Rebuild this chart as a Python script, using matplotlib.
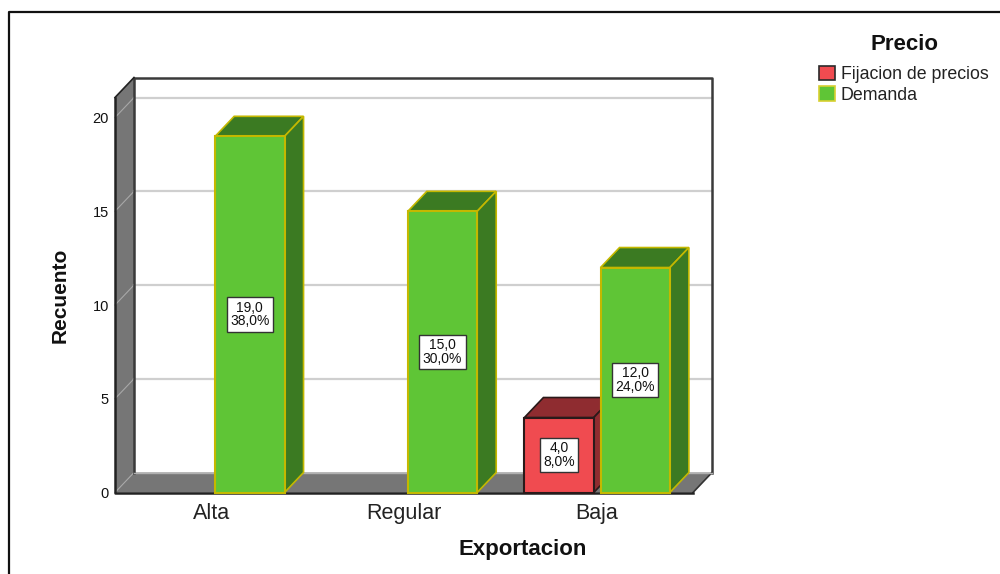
import matplotlib
matplotlib.use('Agg')
from matplotlib import pyplot as plt
from matplotlib.patches import Polygon, Patch
from matplotlib.lines import Line2D

plt.rcParams['font.family'] = ['Liberation Sans', 'DejaVu Sans']

categorias = ['Alta', 'Regular', 'Baja']
y_ticks = [0, 5, 10, 15, 20]
fijacion = [0, 0, 4]
demanda = [19, 15, 12]
pct_fijacion = [0, 0, 8]
pct_demanda = [38, 30, 24]

W, H = 1000, 574
# depth of the fake 3d box, in category / count units
dx = 19 / 192.67
dy = 20 / 18.75
x0, x1 = -0.5, 2.5
y0, y1 = 0, 21.07
ancho = 0.36
GRIS = '#767676'
VERDE, VERDE_D, VERDE_E = '#5FC536', '#3B7A22', '#C4B800'
ROJO, ROJO_D, ROJO_E = '#F04B50', '#8F2C30', '#2A1A1A'

fig = plt.figure(figsize=(W / 100, H / 100), dpi=100)
ax = fig.add_axes([115 / W, 1 - 492.5 / H, 578 / W, 395 / H])
ax.set_xlim(x0, x1)
ax.set_ylim(y0, y1)
ax.patch.set_visible(False)
for s in ax.spines.values():
    s.set_visible(False)


def poli(pts, color, edge, lw=1.0, z=2):
    ax.add_patch(Polygon(pts, closed=True, facecolor=color, edgecolor=edge,
                         linewidth=lw, clip_on=False, zorder=z, joinstyle='miter'))


# left wall and floor
poli([(x0, y0), (x0 + dx, dy), (x0 + dx, y1 + dy), (x0, y1)], GRIS, 'none', 0, 1)
poli([(x0, y0), (x0 + dx, dy), (x1 + dx, dy), (x1, y0)], GRIS, 'none', 0, 1)

# gridlines on back wall, continuing down the left wall
for t in y_ticks[1:]:
    ax.plot([x0 + dx, x1 + dx], [t + dy, t + dy], color='#cfcfcf', lw=1.6, clip_on=False, zorder=1.5)
    ax.plot([x0, x0 + dx], [t, t + dy], color='#a8a8a8', lw=0.8, clip_on=False, zorder=1.5)
ax.plot([x0, x0 + dx], [y0, dy], color='#a8a8a8', lw=0.8, clip_on=False, zorder=1.5)
ax.plot([x1, x1 + dx], [y0, dy], color='#333333', lw=1.2, clip_on=False, zorder=1.5)

# box outline
ax.plot([x0 + dx, x0 + dx, x1 + dx, x1 + dx], [dy, y1 + dy, y1 + dy, dy], color='#3a3a3a', lw=1.8, clip_on=False, zorder=1.6)
ax.plot([x0 + dx, x1 + dx], [dy, dy], color='#b0b0b0', lw=1, clip_on=False, zorder=1.6)
ax.plot([x0, x0, x1], [y1, y0, y0], color='#222222', lw=1.8, clip_on=False, zorder=1.6)
ax.plot([x0, x0 + dx], [y1, y1 + dy], color='#222222', lw=1.2, clip_on=False, zorder=1.6)


def barra(xc, v, cara, lado, borde, z):
    a, b = xc - ancho / 2, xc + ancho / 2
    poli([(a, v), (a + dx, v + dy), (b + dx, v + dy), (b, v)], lado, borde, 1.2, z)
    poli([(b, 0), (b + dx, dy), (b + dx, v + dy), (b, v)], lado, borde, 1.2, z)
    poli([(a, 0), (a, v), (b, v), (b, 0)], cara, borde, 1.5, z + 0.1)


def etiqueta(xc, v, pct, z):
    txt = f'{v:.1f}\n{pct:.1f}%'.replace('.', ',')
    ax.text(xc, v / 2, txt, ha='center', va='center', fontsize=10, linespacing=0.95,
            color='#111111', zorder=z,
            bbox=dict(boxstyle='square,pad=0.25', facecolor='white', edgecolor='#333333', linewidth=1.0))


for i in range(len(categorias)):
    if fijacion[i] > 0:
        barra(i - 0.195, fijacion[i], ROJO, ROJO_D, ROJO_E, 3)
        etiqueta(i - 0.195, fijacion[i], pct_fijacion[i], 3.5)
    if demanda[i] > 0:
        barra(i + 0.2, demanda[i], VERDE, VERDE_D, VERDE_E, 4)
        etiqueta(i + 0.2, demanda[i], pct_demanda[i], 4.5)

ax.set_xticks(range(len(categorias)))
ax.set_xticklabels(categorias, fontsize=15.5, color='#222222')
ax.set_yticks(y_ticks)
ax.set_yticklabels([str(t) for t in y_ticks], fontsize=10.5, color='#111111')
ax.tick_params(axis='both', length=0)
ax.tick_params(axis='x', pad=7.5)
ax.tick_params(axis='y', pad=4.5)
ax.set_xlabel('Exportacion', fontsize=16, fontweight='bold', color='#111111')
ax.xaxis.set_label_coords((523 - 115) / 578, -(549 - 492.5) / 395)
ax.xaxis.label.set_verticalalignment('center')
ax.set_ylabel('Recuento', fontsize=15, fontweight='bold', color='#111111')
ax.yaxis.set_label_coords((60 - 115) / 578, 0.5)
ax.yaxis.label.set_verticalalignment('center')

# legend, title placed on its own so the gap to the entries can match
handles = [Patch(facecolor=ROJO, edgecolor='#2A2A2A', linewidth=1.2, label='Fijacion de precios'),
           Patch(facecolor=VERDE, edgecolor='#D8D030', linewidth=1.2, label='Demanda')]
fig.text(905 / W, 1 - 44 / H, 'Precio', fontsize=16, fontweight='bold', ha='center', va='center', color='#111111')
leg = fig.legend(handles=handles, loc='upper left',
                 bbox_to_anchor=(815 / W, 1 - 62 / H), frameon=False, fontsize=12.8,
                 handlelength=0.92, handleheight=0.85, handletextpad=0.32,
                 labelspacing=0.2, borderpad=0.2, borderaxespad=0)
for t in leg.get_texts():
    t.set_color('#222222')

# outer frame, only top and left visible
fig.add_artist(Line2D([8.5 / W, 8.5 / W, 1], [0, 1 - 11.5 / H, 1 - 11.5 / H], color='#111111', lw=1.6))

fig.savefig('out.png', dpi=100)
